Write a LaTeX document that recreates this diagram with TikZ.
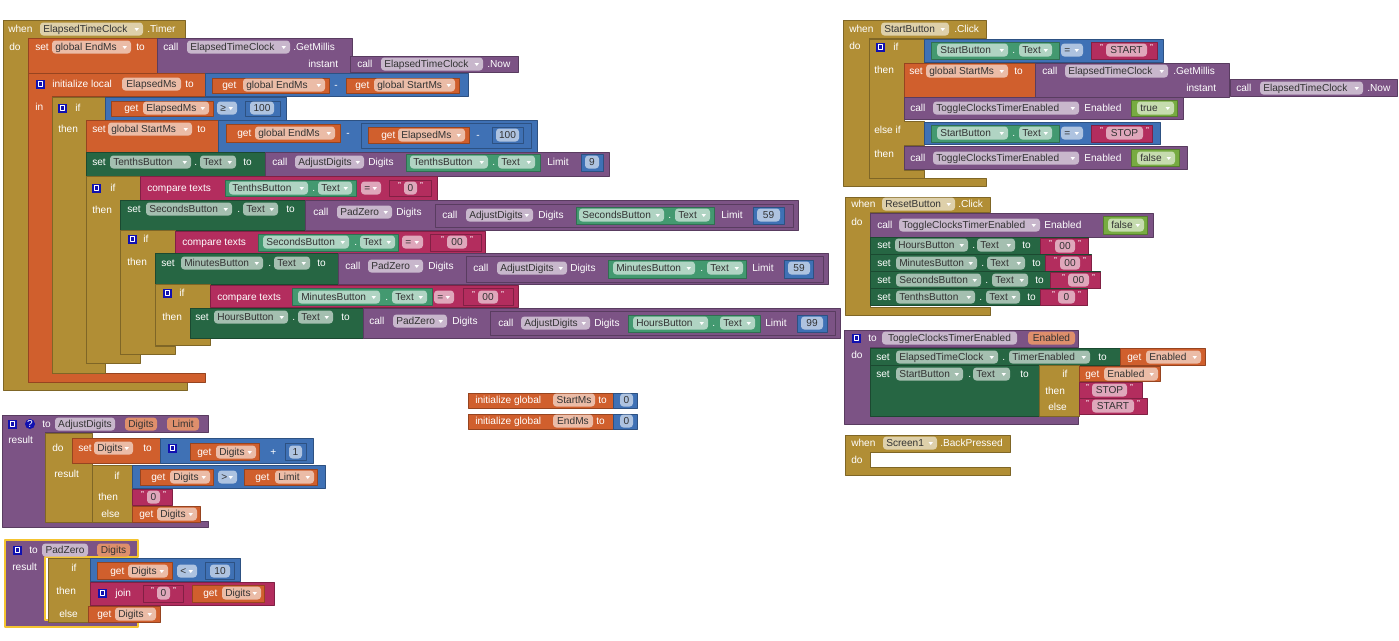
\documentclass[tikz,border=0pt]{standalone}
\usepackage{fontspec}
\setmainfont{Liberation Sans}
\definecolor{cGold}{HTML}{B18E35}
\definecolor{cOrange}{HTML}{D05F2D}
\definecolor{cPurple}{HTML}{7C5385}
\definecolor{cBlue}{HTML}{3F71B5}
\definecolor{cMag}{HTML}{B32D5E}
\definecolor{cDG}{HTML}{266643}
\definecolor{cLG}{HTML}{439970}
\definecolor{cLogic}{HTML}{77AB41}
\definecolor{cMut}{HTML}{1010B0}
\definecolor{cSel}{HTML}{F4C430}
\newcommand\fs{\fontsize{7.6}{8.5}\selectfont}
\newcounter{nd}
\newcommand\blk[5]{\path[fill=#1,draw=#1!72!black,line width=.4pt] (#2,#3) rectangle (#4,#5);}
\newcommand\lb[3]{\stepcounter{nd}\node[lbl] (n\arabic{nd}) at (#1,#2) {#3};}
\newcommand\fd[5]{\path[fill=#1!42!white,rounded corners=2.5pt] (#2,#4-6.5) rectangle (#3,#4+6.5);
 \stepcounter{nd}\node[fl] (n\arabic{nd}) at (#2+3,#4) {#5};
 \fill[white] (#3-8.5,#4-1) -- (#3-4,#4-1) -- (#3-6.25,#4+2) -- cycle;}
\newcommand\fn[5]{\path[fill=#1!42!white,rounded corners=2.5pt] (#2,#4-6.5) rectangle (#3,#4+6.5);
 \stepcounter{nd}\node[fc] (n\arabic{nd}) at ({(#2+#3)/2},#4) {#5};}
\newcommand\fx[5]{\path[fill=#1,rounded corners=2.5pt] (#2,#4-6.5) rectangle (#3,#4+6.5);
 \stepcounter{nd}\node[fc] (n\arabic{nd}) at ({(#2+#3)/2},#4) {#5};}
\newcommand\tb[8]{\blk{cMag}{#1}{#2}{#3}{#4}\fn{cMag}{#6}{#7}{#5}{#8}%
 \stepcounter{nd}\node[qt] (n\arabic{nd}) at (#6-4.5,#5-2) {"};%
 \stepcounter{nd}\node[qt] (n\arabic{nd}) at (#7+4.5,#5-2) {"};}
\newcommand\mut[2]{\fill[cMut] (#1,#2-4.5) rectangle (#1+9,#2+4.5);
 \draw[white,line width=.5pt] (#1+2.5,#2-2.8) rectangle (#1+6.5,#2+2.8);}
\begin{document}
\begin{tikzpicture}[x=0.75pt,y=-0.75pt,line join=round,
 lbl/.style={anchor=west,inner sep=0,text=white,font=\fs,text height=5.5pt,text depth=0pt},
 fl/.style={anchor=west,inner sep=0,text=black!80,font=\fs,text height=5.5pt,text depth=0pt},
 fc/.style={inner sep=0,text=black!80,font=\fs,text height=5.5pt,text depth=0pt},
 qt/.style={inner sep=0,text=white,font=\fontsize{6.5}{6.5}\selectfont},
 bGold/.style={fill=cGold,draw=cGold!72!black,line width=.4pt},
 bOrange/.style={fill=cOrange,draw=cOrange!72!black,line width=.4pt},
 bPurple/.style={fill=cPurple,draw=cPurple!72!black,line width=.4pt}]
\fill[white] (0,0) rectangle (1399,640);
\useasboundingbox (0,0) rectangle (1399,640);

% ===== when ElapsedTimeClock.Timer =====
\path[bGold] (3,20) -- (185,20) -- (185,38) -- (28,38) -- (28,382) -- (187,382) -- (187,390) -- (3,390) -- cycle;
\lb{8}{29}{when} \fd{cGold}{40}{143}{29}{ElapsedTimeClock} \lb{147}{29}{.Timer} \lb{9}{47}{do}
\blk{cOrange}{28}{38}{157}{73}
\lb{35}{47}{set} \fd{cOrange}{52}{131}{47}{global EndMs} \lb{136}{47}{to}
\blk{cPurple}{157}{38}{352}{73}
\lb{163}{47}{call} \fd{cPurple}{187}{290}{47}{ElapsedTimeClock} \lb{293}{47}{.GetMillis} \lb{308}{64}{instant}
\blk{cPurple}{350}{56}{518}{72}
\lb{357}{64}{call} \fd{cPurple}{381}{483}{64}{ElapsedTimeClock} \lb{487}{64}{.Now}
% init local
\path[bOrange] (28,73) -- (205,73) -- (205,96) -- (52,96) -- (52,373) -- (205,373) -- (205,382) -- (28,382) -- cycle;
\mut{36}{84} \lb{52}{84}{initialize local} \fn{cOrange}{122}{181}{84}{ElapsedMs} \lb{185}{84}{to} \lb{35}{107}{in}
\blk{cBlue}{205}{73}{468}{96}
\blk{cOrange}{212}{78}{329}{93} \lb{222}{85}{get} \fd{cOrange}{243}{325}{85}{global EndMs}
\lb{334}{85}{-}
\blk{cOrange}{346}{78}{459}{93} \lb{355}{85}{get} \fd{cOrange}{374}{455}{85}{global StartMs}
% if1
\path[bGold] (52,97) -- (105,97) -- (105,120) -- (86,120) -- (86,363) -- (105,363) -- (105,373) -- (52,373) -- cycle;
\mut{58}{108} \lb{75}{108}{if} \lb{58}{129}{then}
\blk{cBlue}{105}{97}{286}{120}
\blk{cOrange}{111}{101}{213}{116} \lb{124}{108}{get} \fd{cOrange}{143}{209}{108}{ElapsedMs}
\fd{cBlue}{217}{237}{108}{≥}
\blk{cBlue}{245}{101}{280}{116} \fn{cBlue}{250}{274}{108}{100}
% set global StartMs
\blk{cOrange}{86}{120}{218}{152} \lb{92}{129}{set} \fd{cOrange}{108}{192}{129}{global StartMs} \lb{197}{129}{to}
\blk{cBlue}{218}{120}{537}{152}
\blk{cOrange}{226}{124}{340}{142} \lb{237}{133}{get} \fd{cOrange}{255}{335}{133}{global EndMs}
\lb{346}{133}{-}
\blk{cBlue}{361}{123}{531}{148}
\blk{cOrange}{368}{127}{469}{143} \lb{381}{135}{get} \fd{cOrange}{398}{465}{135}{ElapsedMs}
\lb{476}{135}{-}
\blk{cBlue}{492}{127}{523}{143} \fn{cBlue}{496}{519}{135}{100}
% set Tenths
\blk{cDG}{86}{152}{265}{176} \lb{92}{162}{set} \fd{cDG}{110}{191}{162}{TenthsButton} \lb{194}{162}{.} \fd{cDG}{200}{236}{162}{Text} \lb{243}{162}{to}
\blk{cPurple}{265}{152}{609}{176} \lb{272}{162}{call} \fd{cPurple}{295}{364}{162}{AdjustDigits} \lb{368}{162}{Digits}
\blk{cLG}{406}{154}{540}{171} \fd{cLG}{410}{488}{162}{TenthsButton} \lb{492}{162}{.} \fd{cLG}{498}{535}{162}{Text}
\lb{547}{162}{Limit} \blk{cBlue}{581}{154}{603}{171} \fn{cBlue}{585}{599}{162}{9}
% if2
\path[bGold] (86,176) -- (140,176) -- (140,200) -- (120,200) -- (120,354) -- (140,354) -- (140,363) -- (86,363) -- cycle;
\mut{92}{188} \lb{110}{188}{if} \lb{92}{210}{then}
\blk{cMag}{140}{176}{437}{200} \lb{147}{188}{compare texts}
\blk{cLG}{225}{180}{356}{196} \fd{cLG}{229}{308}{188}{TenthsButton} \lb{312}{188}{.} \fd{cLG}{318}{352}{188}{Text}
\fd{cMag}{361}{381}{188}{=}
\tb{389}{180}{431}{196}{188}{404}{417}{0}
% set Seconds
\blk{cDG}{120}{200}{305}{230} \lb{127}{209}{set} \fd{cDG}{146}{232}{209}{SecondsButton} \lb{237}{209}{.} \fd{cDG}{243}{278}{209}{Text} \lb{286}{209}{to}
\blk{cPurple}{305}{200}{798}{230} \lb{313}{212}{call} \fd{cPurple}{337}{392}{212}{PadZero} \lb{396}{212}{Digits}
\blk{cPurple}{435}{204}{793}{227} \lb{442}{215}{call} \fd{cPurple}{466}{533}{215}{AdjustDigits} \lb{538}{215}{Digits}
\blk{cLG}{576}{207}{714}{224} \fd{cLG}{579}{664}{215}{SecondsButton} \lb{668}{215}{.} \fd{cLG}{675}{710}{215}{Text}
\lb{721}{215}{Limit} \blk{cBlue}{753}{207}{784}{224} \fn{cBlue}{757}{780}{215}{59}
% if3
\path[bGold] (120,230) -- (175,230) -- (175,253) -- (155,253) -- (155,346) -- (175,346) -- (175,354) -- (120,354) -- cycle;
\mut{128}{239} \lb{143}{239}{if} \lb{127}{262}{then}
\blk{cMag}{175}{231}{485}{253} \lb{182}{242}{compare texts}
\blk{cLG}{258}{234}{398}{251} \fd{cLG}{263}{349}{242}{SecondsButton} \lb{354}{242}{.} \fd{cLG}{360}{395}{242}{Text}
\fd{cMag}{402}{423}{242}{=}
\tb{430}{234}{481}{251}{242}{447}{467}{00}
% set Minutes
\blk{cDG}{155}{253}{338}{284} \lb{161}{263}{set} \fd{cDG}{181}{263}{263}{MinutesButton} \lb{268}{263}{.} \fd{cDG}{274}{310}{263}{Text} \lb{317}{263}{to}
\blk{cPurple}{338}{253}{828}{284} \lb{345}{266}{call} \fd{cPurple}{368}{423}{266}{PadZero} \lb{428}{266}{Digits}
\blk{cPurple}{466}{256}{823}{282} \lb{473}{268}{call} \fd{cPurple}{497}{567}{268}{AdjustDigits} \lb{570}{268}{Digits}
\blk{cLG}{608}{260}{746}{278} \fd{cLG}{613}{695}{268}{MinutesButton} \lb{700}{268}{.} \fd{cLG}{707}{743}{268}{Text}
\lb{752}{268}{Limit} \blk{cBlue}{784}{260}{813}{278} \fn{cBlue}{788}{810}{268}{59}
% if4
\path[bGold] (155,284) -- (210,284) -- (210,308) -- (190,308) -- (190,338) -- (210,338) -- (210,345) -- (155,345) -- cycle;
\mut{163}{293} \lb{179}{293}{if} \lb{162}{317}{then}
\blk{cMag}{210}{285}{518}{307} \lb{217}{297}{compare texts}
\blk{cLG}{292}{288}{432}{305} \fd{cLG}{298}{380}{297}{MinutesButton} \lb{385}{297}{.} \fd{cLG}{392}{427}{297}{Text}
\fd{cMag}{434}{454}{297}{=}
\tb{463}{288}{513}{305}{297}{478}{498}{00}
% set Hours
\blk{cDG}{190}{308}{363}{338} \lb{195}{317}{set} \fd{cDG}{214}{288}{317}{HoursButton} \lb{292}{317}{.} \fd{cDG}{298}{333}{317}{Text} \lb{341}{317}{to}
\blk{cPurple}{363}{308}{840}{338} \lb{369}{321}{call} \fd{cPurple}{393}{447}{321}{PadZero} \lb{452}{321}{Digits}
\blk{cPurple}{490}{311}{835}{335} \lb{498}{323}{call} \fd{cPurple}{521}{590}{323}{AdjustDigits} \lb{594}{323}{Digits}
\blk{cLG}{628}{315}{760}{332} \fd{cLG}{633}{708}{323}{HoursButton} \lb{712}{323}{.} \fd{cLG}{720}{755}{323}{Text}
\lb{765}{323}{Limit} \blk{cBlue}{797}{315}{827}{332} \fn{cBlue}{801}{823}{323}{99}

% ===== AdjustDigits =====
\path[bPurple] (2,415) -- (208,415) -- (208,432) -- (45,432) -- (45,521) -- (208,521) -- (208,527) -- (2,527) -- cycle;
\mut{8}{424} \fill[cMut] (30,424) circle (5);
\stepcounter{nd}\node[lbl,anchor=center] (n\arabic{nd}) at (30,424) {?};
\lb{42}{424}{to} \fn{cPurple}{55}{115}{424}{AdjustDigits} \fx{cOrange!70!white}{125}{157}{424}{Digits} \fx{cOrange!70!white}{167}{199}{424}{Limit}
\lb{8}{440}{result}
\blk{cGold}{45}{433}{92}{522}
\lb{52}{448}{do} \lb{54}{474}{result}
\blk{cOrange}{72}{438}{160}{463} \lb{78}{448}{set} \fd{cOrange}{94}{133}{448}{Digits} \lb{143}{448}{to}
\blk{cBlue}{160}{438}{313}{463} \mut{168}{448}
\blk{cOrange}{190}{443}{259}{460} \lb{197}{452}{get} \fd{cOrange}{216}{256}{452}{Digits}
\lb{270}{452}{+} \blk{cBlue}{285}{443}{306}{460} \fn{cBlue}{289}{302}{452}{1}
\blk{cGold}{92}{465}{133}{522} \lb{114}{476}{if} \lb{98}{497}{then} \lb{101}{514}{else}
\blk{cBlue}{132}{465}{325}{488}
\blk{cOrange}{140}{469}{213}{485} \lb{151}{477}{get} \fd{cOrange}{170}{210}{477}{Digits}
\fd{cBlue}{218}{237}{477}{>}
\blk{cOrange}{244}{469}{317}{485} \lb{255}{477}{get} \fd{cOrange}{275}{314}{477}{Limit}
\tb{132}{489}{172}{505}{497}{147}{160}{0}
\blk{cOrange}{132}{506}{200}{522} \lb{139}{514}{get} \fd{cOrange}{157}{197}{514}{Digits}

% ===== PadZero =====
\path[bPurple,draw=cSel,line width=1.2pt] (5,540) -- (138,540) -- (138,557) -- (45,557) -- (45,620) -- (138,620) -- (138,627) -- (5,627) -- cycle;
\mut{13}{550} \lb{29}{550}{to} \fn{cPurple}{42}{88}{550}{PadZero} \fx{cOrange!70!white}{97}{130}{550}{Digits}
\lb{12}{567}{result}
\blk{cGold}{48}{558}{90}{622} \lb{71}{568}{if} \lb{56}{591}{then} \lb{59}{614}{else}
\blk{cBlue}{90}{558}{240}{581}
\blk{cOrange}{97}{562}{172}{579} \lb{110}{571}{get} \fd{cOrange}{128}{168}{571}{Digits}
\fd{cBlue}{177}{197}{571}{<}
\blk{cBlue}{205}{562}{234}{579} \fn{cBlue}{210}{230}{571}{10}
\blk{cMag}{90}{582}{274}{605} \mut{98}{593} \lb{115}{593}{join}
\tb{143}{585}{183}{602}{593}{157}{170}{0}
\blk{cOrange}{192}{585}{264}{602} \lb{203}{593}{get} \fd{cOrange}{222}{261}{593}{Digits}
\blk{cOrange}{88}{606}{160}{622} \lb{97}{614}{get} \fd{cOrange}{115}{156}{614}{Digits}

% ===== globals =====
\blk{cOrange}{468}{393}{613}{408} \lb{475}{400}{initialize global} \fn{cOrange}{553}{595}{400}{StartMs} \lb{598}{400}{to}
\blk{cBlue}{613}{393}{637}{408} \fn{cBlue}{620}{633}{400}{0}
\blk{cOrange}{468}{414}{613}{429} \lb{475}{421}{initialize global} \fn{cOrange}{553}{593}{421}{EndMs} \lb{596}{421}{to}
\blk{cBlue}{613}{414}{637}{429} \fn{cBlue}{620}{633}{421}{0}

% ===== StartButton.Click =====
\path[bGold] (843,20) -- (986,20) -- (986,38) -- (869,38) -- (869,178) -- (986,178) -- (986,186) -- (843,186) -- cycle;
\lb{849}{29}{when} \fd{cGold}{881}{949}{29}{StartButton} \lb{954}{29}{.Click} \lb{849}{46}{do}
\path[bGold] (869,39) -- (924,39) -- (924,63) -- (904,63) -- (904,121) -- (924,121) -- (924,145) -- (904,145) -- (904,170) -- (924,170) -- (924,178) -- (869,178) -- cycle;
\mut{876}{47} \lb{893}{47}{if} \lb{874}{70}{then} \lb{874}{130}{else if} \lb{874}{154}{then}
\blk{cBlue}{924}{39}{1163}{62}
\blk{cLG}{931}{42}{1059}{59} \fd{cLG}{937}{1008}{50}{StartButton} \lb{1012}{50}{.} \fd{cLG}{1019}{1052}{50}{Text}
\fd{cBlue}{1061}{1083}{50}{=}
\tb{1091}{42}{1157}{59}{50}{1106}{1147}{START}
\blk{cOrange}{904}{63}{1035}{97} \lb{909}{71}{set} \fd{cOrange}{926}{1008}{71}{global StartMs} \lb{1014}{71}{to}
\blk{cPurple}{1035}{63}{1229}{97} \lb{1042}{71}{call} \fd{cPurple}{1065}{1168}{71}{ElapsedTimeClock} \lb{1173}{71}{.GetMillis} \lb{1186}{88}{instant}
\blk{cPurple}{1230}{79}{1397}{96} \lb{1236}{88}{call} \fd{cPurple}{1260}{1363}{88}{ElapsedTimeClock} \lb{1367}{88}{.Now}
\blk{cPurple}{904}{97}{1183}{119} \lb{910}{108}{call} \fd{cPurple}{933}{1079}{108}{ToggleClocksTimerEnabled} \lb{1084}{108}{Enabled}
\blk{cLogic}{1131}{100}{1177}{116} \fd{cLogic}{1137}{1174}{108}{true}
\blk{cBlue}{924}{122}{1160}{144}
\blk{cLG}{931}{125}{1059}{142} \fd{cLG}{937}{1008}{133}{StartButton} \lb{1012}{133}{.} \fd{cLG}{1019}{1052}{133}{Text}
\fd{cBlue}{1061}{1083}{133}{=}
\tb{1091}{125}{1152}{142}{133}{1106}{1143}{STOP}
\blk{cPurple}{904}{146}{1187}{169} \lb{910}{158}{call} \fd{cPurple}{933}{1079}{158}{ToggleClocksTimerEnabled} \lb{1084}{158}{Enabled}
\blk{cLogic}{1131}{149}{1179}{166} \fd{cLogic}{1137}{1175}{158}{false}

% ===== ResetButton.Click =====
\path[bGold] (845,197) -- (990,197) -- (990,212) -- (870,212) -- (870,307) -- (990,307) -- (990,315) -- (845,315) -- cycle;
\lb{851}{204}{when} \fd{cGold}{882}{955}{204}{ResetButton} \lb{958}{204}{.Click} \lb{851}{222}{do}
\blk{cPurple}{870}{213}{1153}{237} \lb{877}{225}{call} \fd{cPurple}{899}{1040}{225}{ToggleClocksTimerEnabled} \lb{1044}{225}{Enabled}
\blk{cLogic}{1103}{216}{1147}{234} \fd{cLogic}{1108}{1144}{225}{false}
\blk{cDG}{870}{237}{1088}{254} \lb{877}{245}{set} \fd{cDG}{895}{968}{245}{HoursButton} \lb{972}{245}{.} \fd{cDG}{977}{1015}{245}{Text} \lb{1022}{245}{to} \tb{1040}{238}{1088}{254}{246}{1055}{1075}{00}
\blk{cDG}{870}{254}{1091}{271} \lb{877}{263}{set} \fd{cDG}{896}{977}{263}{MinutesButton} \lb{981}{263}{.} \fd{cDG}{987}{1025}{263}{Text} \lb{1032}{263}{to} \tb{1045}{255}{1091}{271}{263}{1060}{1080}{00}
\blk{cDG}{870}{271}{1100}{288} \lb{877}{280}{set} \fd{cDG}{896}{981}{280}{SecondsButton} \lb{985}{280}{.} \fd{cDG}{992}{1028}{280}{Text} \lb{1035}{280}{to} \tb{1050}{272}{1100}{288}{280}{1068}{1089}{00}
\blk{cDG}{870}{288}{1087}{305} \lb{877}{297}{set} \fd{cDG}{896}{975}{297}{TenthsButton} \lb{979}{297}{.} \fd{cDG}{986}{1020}{297}{Text} \lb{1027}{297}{to} \tb{1040}{289}{1087}{305}{297}{1058}{1075}{0}

% ===== to ToggleClocksTimerEnabled =====
\path[bPurple] (844,330) -- (1078,330) -- (1078,347) -- (870,347) -- (870,416) -- (1078,416) -- (1078,424) -- (844,424) -- cycle;
\mut{852}{338} \lb{868}{338}{to} \fn{cPurple}{882}{1017}{338}{ToggleClocksTimerEnabled} \fx{cOrange!70!white}{1028}{1075}{338}{Enabled} \lb{851}{355}{do}
\blk{cDG}{870}{348}{1120}{365} \lb{876}{357}{set} \fd{cDG}{896}{998}{357}{ElapsedTimeClock} \lb{1002}{357}{.} \fd{cDG}{1009}{1090}{357}{TimerEnabled} \lb{1098}{357}{to}
\blk{cOrange}{1120}{348}{1205}{365} \lb{1127}{357}{get} \fd{cOrange}{1146}{1201}{357}{Enabled}
\blk{cDG}{870}{365}{1039}{416} \lb{876}{374}{set} \fd{cDG}{896}{963}{374}{StartButton} \lb{968}{374}{.} \fd{cDG}{973}{1010}{374}{Text} \lb{1020}{374}{to}
\blk{cGold}{1039}{365}{1079}{416} \lb{1062}{374}{if} \lb{1045}{391}{then} \lb{1048}{407}{else}
\blk{cOrange}{1079}{366}{1160}{381} \lb{1085}{374}{get} \fd{cOrange}{1104}{1158}{374}{Enabled}
\tb{1079}{382}{1142}{398}{390}{1092}{1127}{STOP}
\tb{1079}{398}{1147}{414}{406}{1092}{1134}{START}

% ===== Screen1.BackPressed =====
\path[bGold] (845,435) -- (1010,435) -- (1010,452) -- (870,452) -- (870,467) -- (1010,467) -- (1010,475) -- (845,475) -- cycle;
\lb{851}{443}{when} \fd{cGold}{883}{937}{443}{Screen1} \lb{940}{443}{.BackPressed} \lb{851}{460}{do}
\end{tikzpicture}
\end{document}
